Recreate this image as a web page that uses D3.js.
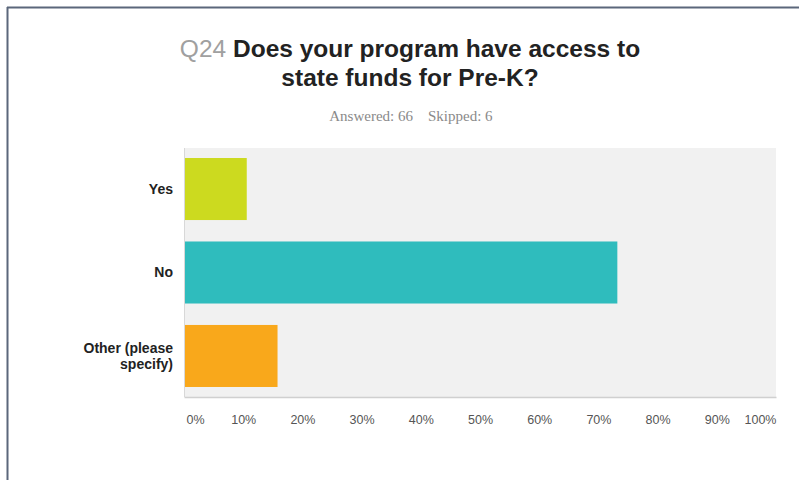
<!DOCTYPE html>
<html>
<head>
<meta charset="utf-8">
<script src="https://cdn.jsdelivr.net/npm/d3@7"></script>
<style>
  html, body { margin: 0; padding: 0; background: #fff; }
  svg { display: block; }
</style>
</head>
<body>
<svg id="chart" width="799" height="480"></svg>
<script>
// Survey question answers (percent of respondents)
const categories = ["Yes", "No", "Other (please specify)"];
const categoryLines = [["Yes"], ["No"], ["Other (please", "specify)"]];
const values = [10.6, 73.2, 15.8];
const barColors = ["#ccda1f", "#2fbcbd", "#f9a81b"];
const tickValues = [0, 10, 20, 30, 40, 50, 60, 70, 80, 90, 100];
const tickLabels = ["0%", "10%", "20%", "30%", "40%", "50%", "60%", "70%", "80%", "90%", "100%"];
const questionId = "Q24";
const titleLines = ["Does your program have access to", "state funds for Pre-K?"];
const answered = 66, skipped = 6;

const svg = d3.select("#chart");

// frame lines along top and left
svg.append("line").attr("x1", 7).attr("x2", 799).attr("y1", 7.5).attr("y2", 7.5)
  .attr("stroke", "#5b677b").attr("stroke-width", 2);
svg.append("line").attr("x1", 7.5).attr("x2", 7.5).attr("y1", 7).attr("y2", 480)
  .attr("stroke", "#5b677b").attr("stroke-width", 2);

// title
const title = svg.append("text")
  .attr("x", 410).attr("y", 57)
  .attr("text-anchor", "middle")
  .attr("font-family", "Liberation Sans, Arial, sans-serif")
  .attr("font-size", 24.5);
title.append("tspan").attr("fill", "#a0a0a0").text(questionId + " ");
title.append("tspan").attr("fill", "#222").attr("font-weight", "bold").text(titleLines[0]);
svg.append("text")
  .attr("x", 410).attr("y", 86)
  .attr("text-anchor", "middle")
  .attr("font-family", "Liberation Sans, Arial, sans-serif")
  .attr("font-size", 24.5).attr("font-weight", "bold").attr("fill", "#222")
  .text(titleLines[1]);

// response counts
const sub = svg.append("g")
  .attr("font-family", "Liberation Serif, serif")
  .attr("font-size", 15).attr("fill", "#8a8a8a");
sub.append("text").attr("x", 413).attr("y", 121).attr("text-anchor", "end")
  .text(`Answered: ${answered}`);
sub.append("text").attr("x", 428).attr("y", 121).attr("text-anchor", "start")
  .text(`Skipped: ${skipped}`);

// plot area
const plot = { left: 184, right: 776, top: 148, bottom: 397 };
const x = d3.scaleLinear().domain([0, 100]).range([plot.left, plot.right]);
const y = d3.scaleBand().domain(categories).range([plot.top, plot.bottom])
  .paddingInner(0.257).paddingOuter(0.12);

svg.append("rect")
  .attr("x", plot.left).attr("y", plot.top)
  .attr("width", plot.right - plot.left).attr("height", plot.bottom - plot.top)
  .attr("fill", "#f1f1f1");

// left baseline
svg.append("line")
  .attr("x1", plot.left + 0.5).attr("x2", plot.left + 0.5)
  .attr("y1", plot.top).attr("y2", plot.bottom)
  .attr("stroke", "#d8d8d8");

// bars
svg.append("g").selectAll("rect")
  .data(categories)
  .join("rect")
  .attr("x", x(0) + 1)
  .attr("y", d => y(d))
  .attr("width", (d, i) => x(values[i]) - x(0) - 1)
  .attr("height", y.bandwidth())
  .attr("fill", (d, i) => barColors[i]);

// category labels
const catG = svg.append("g")
  .attr("font-family", "Liberation Sans, Arial, sans-serif")
  .attr("font-size", 14).attr("font-weight", "bold").attr("fill", "#222")
  .attr("text-anchor", "end");
categories.forEach((c, i) => {
  const lines = categoryLines[i];
  const cy = y(c) + y.bandwidth() / 2;
  const lh = 16;
  lines.forEach((ln, j) => {
    catG.append("text")
      .attr("x", 173)
      .attr("y", cy + (j - (lines.length - 1) / 2) * lh)
      .attr("dy", "0.35em")
      .text(ln);
  });
});

// value axis
const axis = d3.axisBottom(x)
  .tickValues(tickValues)
  .tickFormat((d, i) => tickLabels[i])
  .tickSize(0)
  .tickPadding(18);
const axG = svg.append("g")
  .attr("transform", `translate(0,${plot.bottom})`)
  .call(axis);
axG.select(".domain").attr("stroke", "#d0d0d0").attr("stroke-width", 1.5);
axG.selectAll(".tick text")
  .attr("font-family", "Liberation Sans, Arial, sans-serif")
  .attr("font-size", 12.5).attr("fill", "#555")
  .attr("text-anchor", (d, i) => i === 0 ? "start" : (i === tickValues.length - 1 ? "end" : "middle"))
  .attr("dx", (d, i) => i === 0 ? 2 : 0);
</script>
</body>
</html>
